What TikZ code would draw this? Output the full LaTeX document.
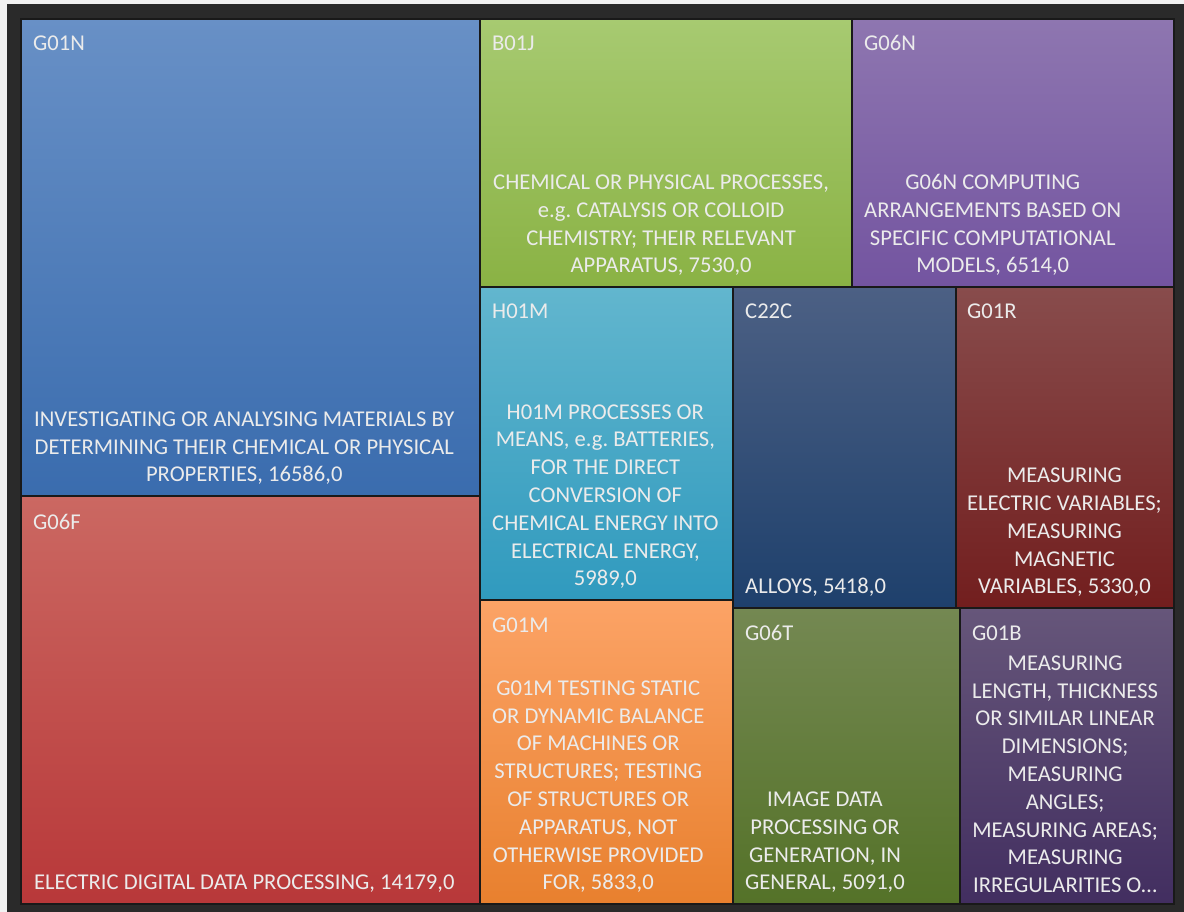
\documentclass[tikz,border=0pt]{standalone}
\usepackage{fontspec}
\setmainfont{Carlito}
\frenchspacing
\begin{document}
\begin{tikzpicture}[x=1pt,y=-1pt,
  cell/.style={draw=black!90,line width=1.3pt},
  tag/.style={anchor=base west,inner sep=0pt,text=white!92!black,font=\fontsize{22.6}{27.8}\selectfont},
  desc/.style={anchor=south west,inner sep=0pt,align=center,text=white!92!black,font=\fontsize{22.6}{27.8}\selectfont}]
\definecolor{bgl}{RGB}{242,242,242}
\definecolor{frame}{RGB}{42,42,42}
\useasboundingbox (0,0) rectangle (1184,912);
\fill[bgl] (0,0) rectangle (1184,912);
\fill[frame] (7,4) rectangle (1184,912);
% cells
\shade[top color={rgb,255:red,104;green,144;blue,198},bottom color={rgb,255:red,58;green,108;blue,174}] (21,19) rectangle (480,496);
\shade[top color={rgb,255:red,203;green,104;blue,98},bottom color={rgb,255:red,184;green,56;blue,57}] (21,496) rectangle (480,904);
\shade[top color={rgb,255:red,167;green,202;blue,113},bottom color={rgb,255:red,138;green,178;blue,68}] (480,19) rectangle (852,287);
\shade[top color={rgb,255:red,142;green,118;blue,176},bottom color={rgb,255:red,115;green,84;blue,160}] (852,19) rectangle (1174,287);
\shade[top color={rgb,255:red,98;green,182;blue,206},bottom color={rgb,255:red,48;green,154;blue,190}] (480,287) rectangle (733,600);
\shade[top color={rgb,255:red,252;green,163;blue,102},bottom color={rgb,255:red,232;green,128;blue,46}] (480,600) rectangle (733,904);
\shade[top color={rgb,255:red,76;green,96;blue,132},bottom color={rgb,255:red,30;green,64;blue,108}] (733,287) rectangle (956,608);
\shade[top color={rgb,255:red,136;green,76;blue,76},bottom color={rgb,255:red,114;green,30;blue,30}] (956,287) rectangle (1174,608);
\shade[top color={rgb,255:red,116;green,136;blue,82},bottom color={rgb,255:red,84;green,114;blue,40}] (733,608) rectangle (960,904);
\shade[top color={rgb,255:red,102;green,86;blue,122},bottom color={rgb,255:red,66;green,46;blue,96}] (960,608) rectangle (1174,904);
\draw[cell] (21,19) rectangle (480,496);
\draw[cell] (21,496) rectangle (480,904);
\draw[cell] (480,19) rectangle (852,287);
\draw[cell] (852,19) rectangle (1174,287);
\draw[cell] (480,287) rectangle (733,600);
\draw[cell] (480,600) rectangle (733,904);
\draw[cell] (733,287) rectangle (956,608);
\draw[cell] (956,287) rectangle (1174,608);
\draw[cell] (733,608) rectangle (960,904);
\draw[cell] (960,608) rectangle (1174,904);
% tags
\node[tag] (tG01N) at (33,51) {G01N};
\node[tag] (tG06F) at (33,529) {G06F};
\node[tag] (tB01J) at (492,51) {B01J};
\node[tag] (tG06N) at (864,51) {G06N};
\node[tag] (tH01M) at (492,319) {H01M};
\node[tag] (tG01M) at (492,632) {G01M};
\node[tag] (tC22C) at (745,319) {C22C};
\node[tag] (tG01R) at (967,319) {G01R};
\node[tag] (tG06T) at (745,640) {G06T};
\node[tag] (tG01B) at (972,640) {G01B};
% descriptions
\node[desc] (dG01N) at (34,485) {INVESTIGATING OR ANALYSING MATERIALS BY\\DETERMINING THEIR CHEMICAL OR PHYSICAL\\PROPERTIES, 16586,0};
\node[desc] (dG06F) at (34,893) {ELECTRIC DIGITAL DATA PROCESSING, 14179,0};
\node[desc] (dB01J) at (493,276) {CHEMICAL OR PHYSICAL PROCESSES,\\e.g. CATALYSIS OR COLLOID\\CHEMISTRY; THEIR RELEVANT\\APPARATUS, 7530,0};
\node[desc] (dG06N) at (864,276) {G06N COMPUTING\\ARRANGEMENTS BASED ON\\SPECIFIC COMPUTATIONAL\\MODELS, 6514,0};
\node[desc] (dH01M) at (492,589) {H01M PROCESSES OR\\MEANS, e.g. BATTERIES,\\FOR THE DIRECT\\CONVERSION OF\\CHEMICAL ENERGY INTO\\ELECTRICAL ENERGY,\\5989,0};
\node[desc] (dG01M) at (492,893) {G01M TESTING STATIC\\OR DYNAMIC BALANCE\\OF MACHINES OR\\STRUCTURES; TESTING\\OF STRUCTURES OR\\APPARATUS, NOT\\OTHERWISE PROVIDED\\FOR, 5833,0};
\node[desc] (dC22C) at (745,597) {ALLOYS, 5418,0};
\node[desc] (dG01R) at (967,597) {MEASURING\\ELECTRIC VARIABLES;\\MEASURING\\MAGNETIC\\VARIABLES, 5330,0};
\node[desc] (dG06T) at (745,893) {IMAGE DATA\\PROCESSING OR\\GENERATION, IN\\GENERAL, 5091,0};
\node[desc] (dG01B) at (972,893) {MEASURING\\LENGTH, THICKNESS\\OR SIMILAR LINEAR\\DIMENSIONS;\\MEASURING\\ANGLES;\\MEASURING AREAS;\\MEASURING\\IRREGULARITIES O…};
\end{tikzpicture}
\end{document}
